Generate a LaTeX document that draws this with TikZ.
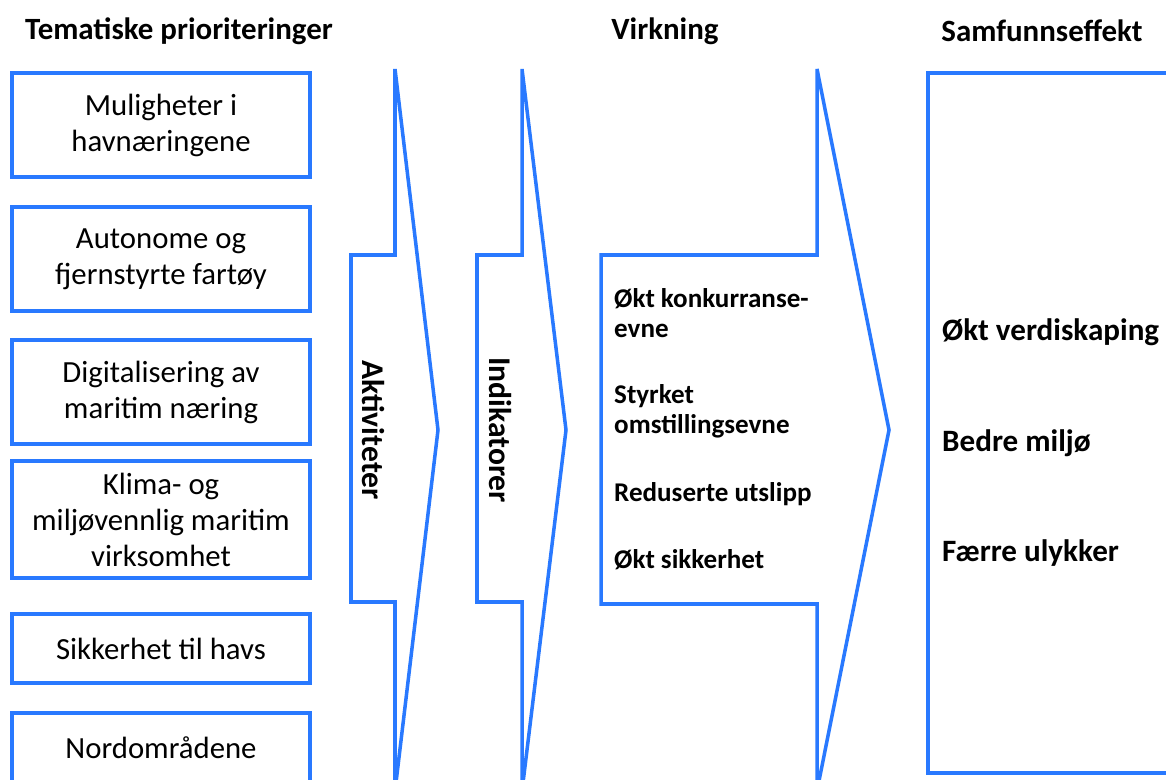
\documentclass[tikz,border=0pt]{standalone}
\usepackage{fontspec}
\setmainfont{Carlito}
\usepackage{tikz}
\definecolor{linjeblaa}{RGB}{41,121,255}

\begin{document}
\begin{tikzpicture}[x=0.02cm,y=-0.02cm,
  tema/.style={draw=linjeblaa,line width=2pt,minimum width=5.96cm,align=center,
    font=\fontsize{17.5}{20.5}\selectfont},
  overskrift/.style={font=\fontsize{17.6}{20}\selectfont\bfseries},
  virk/.style={anchor=west,align=left,font=\fontsize{15.4}{17}\selectfont\bfseries},
  effekt/.style={anchor=west,font=\fontsize{17.7}{20}\selectfont\bfseries},
  pil/.style={draw=linjeblaa,line width=2pt,line join=miter}]
\useasboundingbox (0,0) rectangle (1166,780);
\clip (0,0) rectangle (1166,780);

% overskrifter
\node[overskrift] (tittelTema) at (179,31) {Tematiske prioriteringer};
\node[overskrift] (tittelVirk) at (665,31) {Virkning};
\node[overskrift] (tittelEffekt) at (1042,31) {Samfunnseffekt};

% tematiske prioriteringer
\node[tema,minimum height=2.08cm] (havn) at (161,125) {Muligheter i\\havnæringene};
\node[tema,minimum height=2.08cm] (autonom) at (161,259) {Autonome og\\fjernstyrte fartøy};
\node[tema,minimum height=2.08cm] (digital) at (161,392) {Digitalisering av\\maritim næring};
\node[tema,minimum height=2.34cm] (klima) at (161,519.5) {Klima- og\\miljøvennlig maritim\\virksomhet};
\node[tema,minimum height=1.38cm] (sikker) at (161,648.5) {Sikkerhet til havs};
\node[tema,minimum height=1.4cm] (nord) at (161,748) {Nordområdene};

% piler
\draw[pil] (351,255) -- (395,255) -- (395,69) -- (438,430) -- (395,791) -- (395,602) -- (351,602) -- cycle;
\draw[pil] (477,255) -- (522,255) -- (522,69) -- (566,430) -- (522,791) -- (522,602) -- (477,602) -- cycle;
\draw[pil] (601,255) -- (817,255) -- (817,69) -- (889,430) -- (817,791) -- (817,604) -- (601,604) -- cycle;
\node[rotate=-90,font=\fontsize{18}{20}\selectfont\bfseries] (aktiv) at (373,430) {Aktiviteter};
\node[rotate=-90,font=\fontsize{18}{20}\selectfont\bfseries] (indik) at (500,430) {Indikatorer};

% virkning
\node[virk] (konk) at (608,313) {Økt konkurranse-\\evne};
\node[virk] (omst) at (608,411) {Styrket\\omstillingsevne};
\node[virk] (utsl) at (608,494) {Reduserte utslipp};
\node[virk] (sikh) at (608,560) {Økt sikkerhet};

% samfunnseffekt
\draw[pil] (1170,73) -- (928,73) -- (928,773) -- (1170,773);
\node[effekt] (verdi) at (936,332) {Økt verdiskaping};
\node[effekt] (miljo) at (936,443) {Bedre miljø};
\node[effekt] (ulykke) at (936,553) {Færre ulykker};
\end{tikzpicture}
\end{document}
